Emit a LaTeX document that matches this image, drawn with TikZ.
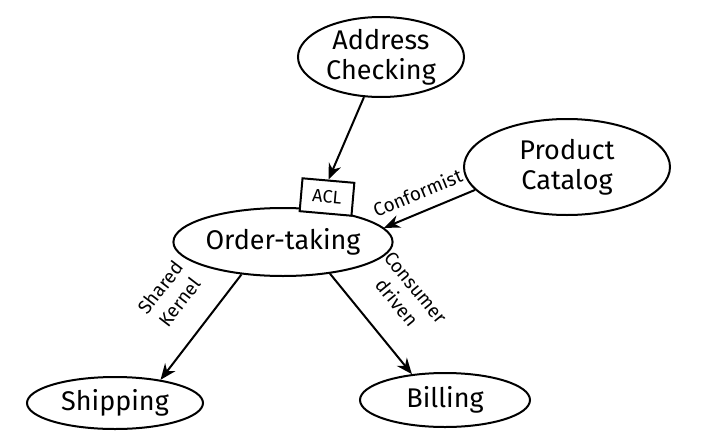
\documentclass[tikz,border=0pt]{standalone}
\usepackage{fontspec}
\setmainfont{Fira Sans}
\usetikzlibrary{shapes.geometric,arrows.meta,positioning}

\begin{document}
\begin{tikzpicture}[
    x=1pt, y=1pt,
    on grid,
    context_node/.style={ellipse, draw=black, line width=2pt, inner sep=0pt, align=center, font=\fontsize{27}{30}\selectfont},
    acl_node/.style={rectangle, draw=black, fill=white, line width=2pt, minimum width=52pt, minimum height=33pt, inner sep=0pt, font=\fontsize{18}{20}\selectfont, rotate=-5},
    arrow/.style={line width=2pt, -{Stealth[length=16pt,width=13pt]}},
    edge_label/.style={font=\fontsize{19}{24}\selectfont, align=center, sloped, inner sep=2pt}
]
\useasboundingbox (-283,-198) rectangle (437,242);

% Central context
\node[context_node, minimum width=210pt, minimum height=68pt] (order) {Order-taking};
\node[acl_node, above right=45pt and 44pt of order] (acl) {ACL};

% Upstream contexts
\node[context_node, minimum width=166pt, minimum height=80pt, above right=185pt and 98pt of order] (address) {Address\\Checking};
\node[context_node, minimum width=206pt, minimum height=96pt, above right=75pt and 284pt of order] (product) {Product\\Catalog};

% Downstream contexts
\node[context_node, minimum width=176pt, minimum height=52pt, below left=161pt and 168pt of order] (shipping) {Shipping};
\node[context_node, minimum width=170pt, minimum height=54pt, below right=158pt and 162pt of order] (billing) {Billing};

% Relationships
\draw[arrow] (address.247) -- (acl.north);
\draw[arrow] (product.194) -- node[edge_label, above=9pt, pos=0.55] {Conformist} (order.8);
\draw[arrow] (order.218) -- node[edge_label, above=22pt, pos=0.45] {Shared\\Kernel} (shipping.27);
\draw[arrow] (order.326) -- node[edge_label, above=24pt, pos=0.5] {Consumer\\driven} (billing.142);

\end{tikzpicture}
\end{document}
